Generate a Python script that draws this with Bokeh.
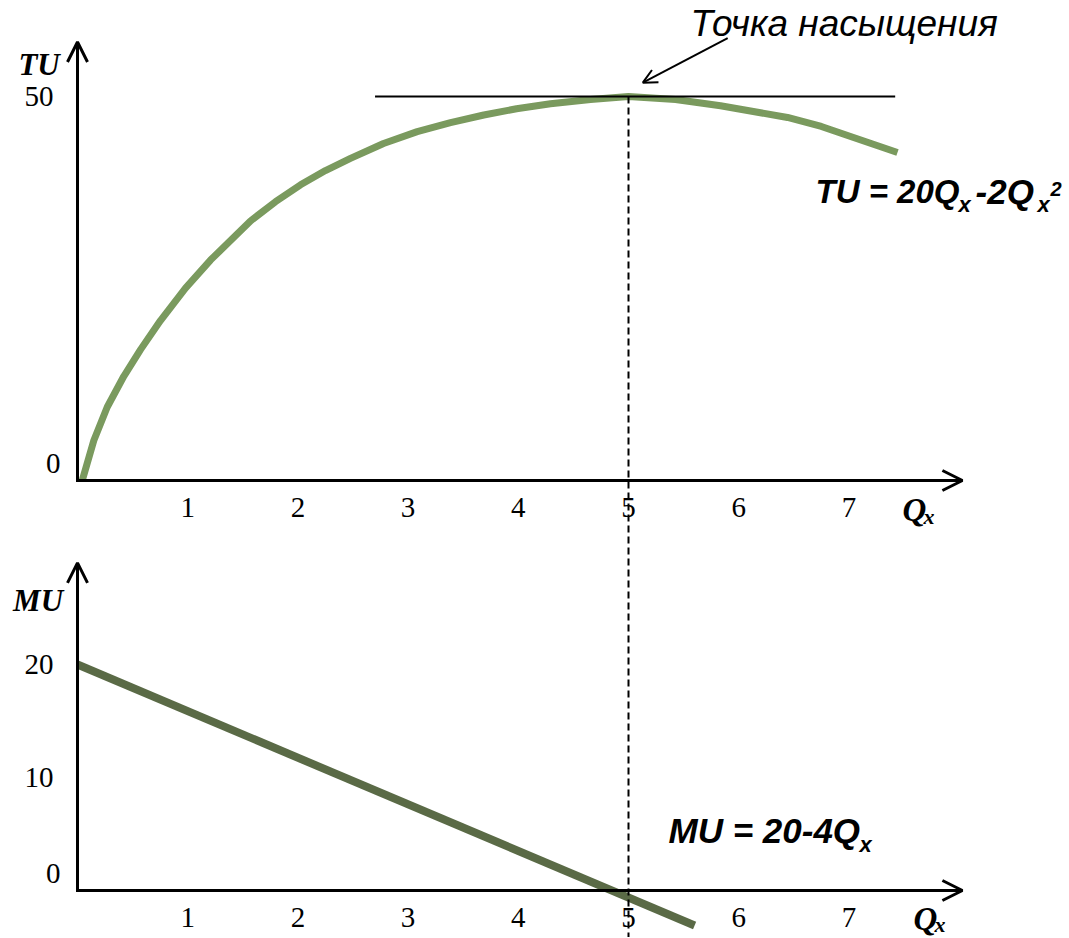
import numpy as np
from bokeh.plotting import figure
from bokeh.models import Range1d, LinearAxis, FixedTicker, Arrow, OpenHead
from bokeh.core.properties import value
from bokeh.embed import file_html
from bokeh.resources import INLINE

# ---- data ----
q_tu = [0.043, 0.148, 0.270, 0.420, 0.572, 0.753, 0.980, 1.207, 1.570, 1.797, 2.024, 2.250,
        2.477, 2.777, 3.083, 3.385, 3.687, 3.984, 4.292, 4.655, 5.0, 5.427, 5.835, 6.443,
        6.750, 7.042, 7.441]
tu = [0.0, 5.21, 9.57, 13.57, 17.04, 20.82, 25.05, 28.70, 33.8, 36.3, 38.5, 40.36,
      41.94, 43.88, 45.42, 46.6, 47.59, 48.4, 49.06, 49.61, 50.0, 49.6, 48.8, 47.27,
      46.1, 44.66, 42.71]
q_mu = [0.0, 5.6]
mu = [20.0, -3.1]
x_ticks = [1, 2, 3, 4, 5, 6, 7]
tu_ticks = [0, 50]
mu_ticks = [0, 10, 20]
tangent_from, tangent_to = 2.70, 7.42

TU_COLOR = "#7A9A5E"
MU_COLOR = "#5A6A46"

p = figure(width=1068, height=937,
           x_range=Range1d(-0.69873, 8.99274), y_range=Range1d(-59.505, 62.5),
           x_axis_location=None, y_axis_location=None,
           toolbar_location=None, output_backend="svg", min_border=0)
p.extra_y_ranges = {"mu": Range1d(-4.159, 78.761)}
p.outline_line_color = None
p.xgrid.visible = False
p.ygrid.visible = False
p.background_fill_color = "white"

SERIF = "Liberation Serif"
SANS = "Liberation Sans"

def style_axis(ax, standoff):
    ax.axis_line_color = None
    ax.major_tick_line_color = None
    ax.minor_tick_line_color = None
    ax.major_tick_in = 0
    ax.major_tick_out = 0
    ax.major_label_standoff = standoff
    ax.major_label_text_font = SERIF
    ax.major_label_text_font_size = "29px"
    ax.major_label_text_color = "black"

# x axes at TU=0 and MU=0
ax_tu_x = LinearAxis(ticker=FixedTicker(ticks=x_ticks), fixed_location=0)
style_axis(ax_tu_x, 17)
p.add_layout(ax_tu_x, "below")
ax_mu_x = LinearAxis(ticker=FixedTicker(ticks=x_ticks), fixed_location=0, y_range_name="mu")
style_axis(ax_mu_x, 17)
p.add_layout(ax_mu_x, "below")

# y axes
ax_tu_y = LinearAxis(ticker=FixedTicker(ticks=[t for t in tu_ticks if t != 0]), fixed_location=0)
style_axis(ax_tu_y, 24)
p.add_layout(ax_tu_y, "left")
ax_mu_y = LinearAxis(ticker=FixedTicker(ticks=[t for t in mu_ticks if t != 0]), fixed_location=0, y_range_name="mu")
style_axis(ax_mu_y, 24)
p.add_layout(ax_mu_y, "left")

# zero labels (lifted off the x axis as in the original)
for rng, z in ((None, tu_ticks[0]), ("mu", mu_ticks[0])):
    kw = {} if rng is None else {"y_range_name": rng}
    p.text(x=[0], y=[z], text=["0"], x_offset=-17, y_offset=-17, text_align="right",
           text_baseline="middle", text_font=value(SERIF), text_font_size="29px",
           text_color="black", **kw)

# curves
p.line(q_tu, tu, line_color=TU_COLOR, line_width=7, line_join="round")
p.line(q_mu, mu, line_color=MU_COLOR, line_width=8, y_range_name="mu")

i_max = int(np.argmax(tu))
q_sat, tu_sat = q_tu[i_max], tu[i_max]
p.segment(x0=[tangent_from], y0=[tu_sat], x1=[tangent_to], y1=[tu_sat], line_color="black", line_width=2)
p.segment(x0=[q_sat], y0=[tu_sat], x1=[q_sat], y1=[-62], line_color="black", line_width=2, line_dash="7 4")

# axis arrows
for rng, top in ((None, 57.1), ("mu", 29.0)):
    kw = {} if rng is None else {"y_range_name": rng}
    p.add_layout(Arrow(x_start=0, y_start=0, x_end=0, y_end=top,
                       end=OpenHead(size=20, line_width=3), line_width=3, line_cap="square", **kw))
    p.add_layout(Arrow(x_start=0, y_start=0, x_end=8.03, y_end=0,
                       end=OpenHead(size=20, line_width=3), line_width=3, line_cap="square", **kw))

def txt(x, y, s, size, font=SERIF, style="bold italic", align="left", dx=0, dy=0, rng=None):
    kw = {} if rng is None else {"y_range_name": rng}
    p.text(x=[x], y=[y], text=[s], x_offset=dx, y_offset=dy, text_align=align,
           text_baseline="middle", text_font=value(font), text_font_style=style,
           text_font_size=size, text_color="black", **kw)

# axis titles
txt(-0.349, 54.17, "TU", "31px", align="center")
txt(-0.358, 25.66, "MU", "31px", align="center", rng="mu")
txt(7.486, 0, "Q", "33px", dy=29)
txt(7.486, 0, "x", "22px", dx=21, dy=36)
txt(7.586, 0, "Q", "33px", dy=28, rng="mu")
txt(7.586, 0, "x", "22px", dx=21, dy=34, rng="mu")

# saturation annotation
txt(5.563, 59.57, "Точка насыщения", "37px", font=SANS, style="italic")
p.add_layout(Arrow(x_start=5.9, y_start=57.6, x_end=5.13, y_end=51.8,
                   end=OpenHead(size=14, line_width=2), line_width=2))

# formulas
txt(6.697, 37.57, "TU = 20Q", "33px", font=SANS)
txt(6.697, 37.57, "x", "22px", font=SANS, dx=143, dy=13)
txt(6.697, 37.57, "-2Q", "35px", font=SANS, dx=160)
txt(6.697, 37.57, "x", "22px", font=SANS, dx=222, dy=13)
txt(6.697, 37.57, "2", "20px", font=SANS, dx=235, dy=-3)

txt(5.363, 5.31, "MU = 20-4Q", "35px", font=SANS, rng="mu")
txt(5.363, 5.31, "x", "22px", font=SANS, dx=191, dy=14, rng="mu")

open("out.html", "w").write(file_html(p, INLINE))
